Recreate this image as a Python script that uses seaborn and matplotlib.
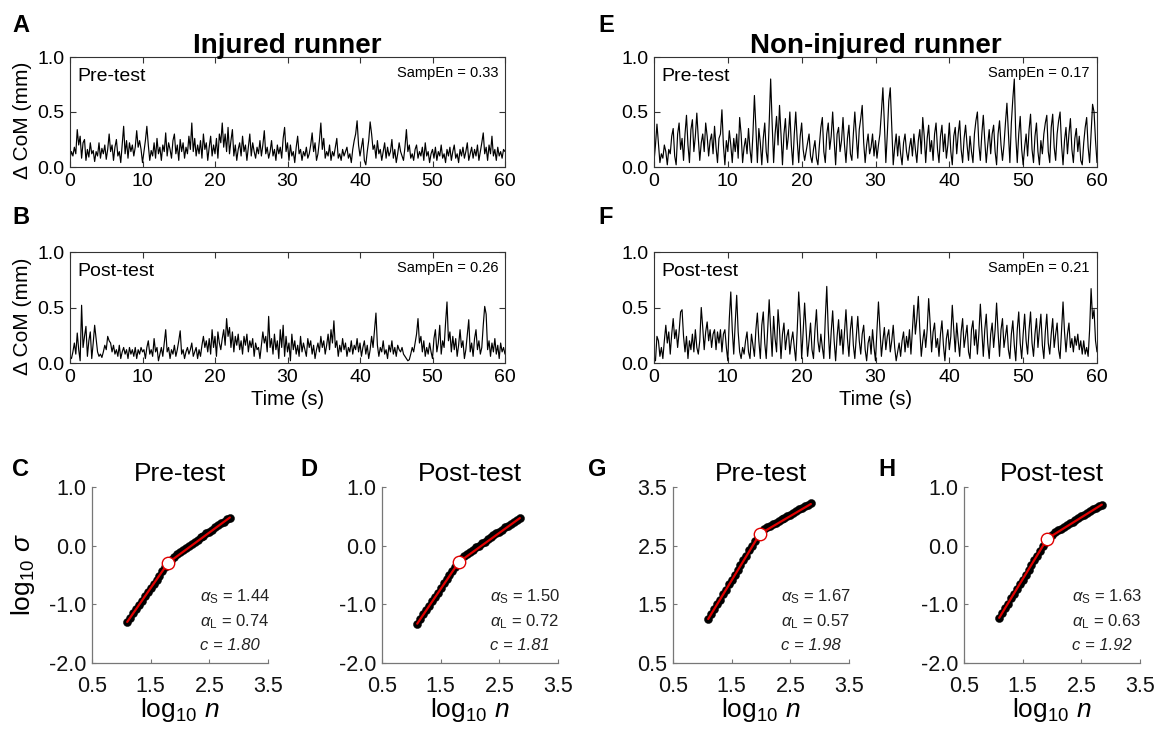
import numpy as np
import matplotlib
matplotlib.use("Agg")
import matplotlib.pyplot as plt
import seaborn as sns

# ---------------- data (CoM variation, units of 0.01 mm, sampled every 0.2 s) ----------------
injured_pre_cmm = [
    8,14,10,18,12,34,20,28,8,22, 25,6,16,9,22,12,15,5,14,10, 22,8,17,12,20,7,16,30,14,20,
    6,18,25,10,14,4,20,37,12,24, 8,22,14,20,10,18,33,18,24,16,
    4,14,24,37,20,6,15,10,22,8, 26,12,18,6,20,14,31,10,22,16, 8,24,30,12,20,6,25,14,22,8,
    18,12,28,16,40,14,26,10,20,12, 24,8,30,16,22,6,18,28,10,20,
    12,26,8,30,22,40,18,30,14,36, 12,24,34,10,20,6,16,22,10,28, 14,20,6,18,30,10,22,14,8,18,
    12,24,10,20,33,12,18,8,14,24, 10,16,6,20,12,18,8,26,36,14,
    22,6,20,10,14,4,18,28,12,16, 6,14,10,18,8,12,20,31,14,22, 6,12,24,40,16,26,8,14,10,20,
    6,14,10,18,26,8,12,6,16,10, 14,18,8,12,4,16,24,30,42,20,
    10,18,26,6,2,14,24,41,30,16, 20,8,24,12,16,6,14,22,8,18, 10,14,25,8,16,4,12,22,14,10,
    6,18,34,14,20,8,12,6,16,20, 8,14,10,18,6,22,10,14,4,12,
    16,8,18,6,14,10,20,8,12,4, 16,10,18,6,14,20,8,12,4,16, 10,18,8,14,22,6,12,18,8,16,
    10,20,6,14,22,31,12,18,6,20, 12,28,10,16,6,18,10,14,8,16, 14]

injured_post_cmm = [
    6,4,10,18,8,27,12,2,52,14, 24,33,6,20,28,4,18,34,22,10, 6,8,5,10,16,12,24,20,18,10,
    16,8,12,6,16,4,10,14,8,12, 4,14,8,12,6,14,4,12,8,14,
    10,12,4,14,20,8,12,6,22,10, 14,2,8,14,6,18,30,10,14,4, 12,8,16,6,12,20,29,8,12,4,
    10,14,8,12,18,6,10,14,4,12, 6,16,24,14,20,10,22,8,30,14,
    24,6,28,18,12,22,30,16,40,24, 32,14,28,10,24,16,26,12,20,8, 24,16,26,10,20,14,22,6,18,12,
    14,4,16,28,18,24,10,42,14,22, 8,26,12,20,4,30,14,34,6,24,
    10,18,2,26,12,20,8,16,6,24, 10,18,12,6,22,14,20,8,16,4, 12,18,10,24,14,20,8,16,26,12,
    30,18,38,14,20,6,16,10,22,12, 18,6,14,10,20,8,16,12,22,10,
    18,6,14,20,8,16,4,12,24,14, 30,45,16,6,14,10,20,8,12,4, 16,10,20,8,14,6,16,12,10,14,
    8,6,4,2,3,8,14,10,18,26, 40,18,24,10,20,6,14,8,18,10,
    4,22,30,10,18,34,8,20,14,36, 55,20,28,10,24,12,22,6,16,30, 14,20,4,12,26,39,10,18,6,22,
    30,12,20,8,14,34,51,44,12,20, 6,18,10,22,8,16,4,18,10,14, 8]

noninjured_pre_cmm = [
    5,20,39,22,4,12,8,20,14,2, 16,12,28,35,10,2,30,40,16,26, 6,30,47,20,4,34,43,14,28,49,
    26,6,22,30,14,40,28,10,24,30, 12,37,18,4,26,30,52,20,2,24,
    14,33,20,4,26,14,30,8,45,30, 4,18,26,12,35,16,4,30,65,36, 4,35,22,2,26,40,14,4,40,80,
    40,4,30,46,20,56,30,2,30,44, 16,28,50,20,2,30,50,24,4,28,
    40,16,6,14,22,30,10,4,16,24, 8,2,20,36,45,14,4,30,40,16, 28,50,24,2,30,36,14,24,45,20,
    4,26,38,12,6,30,50,28,8,34, 44,56,22,4,20,30,12,18,30,10,
    24,8,20,30,50,72,40,4,30,60, 72,36,2,18,30,10,28,12,2,22, 30,14,6,18,26,10,30,16,4,24,
    34,12,45,28,4,26,38,14,24,6, 30,40,16,4,28,38,14,30,8,20,
    40,14,2,28,36,12,30,42,16,4, 26,38,20,6,28,14,4,30,42,50, 20,6,30,47,24,4,20,34,12,30,
    38,14,2,30,42,20,6,20,40,58, 30,4,40,62,80,28,4,30,46,16,
    2,18,30,10,34,48,16,4,28,40, 14,2,24,12,30,40,47,14,4,36, 48,18,6,30,42,50,20,2,24,36,
    12,30,44,16,4,26,35,14,28,6, 2,22,36,45,18,4,30,57,50,24, 4]

noninjured_post_cmm = [
    4,2,24,20,6,14,4,20,34,18, 28,8,26,40,22,30,14,28,46,48, 24,10,24,4,20,12,26,10,30,14,
    8,20,50,32,12,28,37,20,30,14, 26,30,12,28,18,30,10,26,30,14,
    2,40,64,30,8,36,61,28,10,4, 14,8,20,28,10,4,26,16,6,30, 45,20,4,34,46,18,4,30,57,30,
    6,42,22,10,48,30,4,26,36,12, 24,30,8,20,28,14,2,30,64,40,
    4,28,54,30,6,20,36,12,4,30, 48,20,10,26,14,4,40,69,30,4, 28,47,20,2,24,39,16,30,8,28,
    48,22,6,30,42,16,4,24,42,20, 8,26,34,12,2,18,24,8,30,14,
    2,30,55,30,6,20,32,12,24,30, 10,20,34,14,2,10,18,6,20,28, 10,24,14,30,8,30,52,26,40,60,
    30,6,20,30,14,30,58,36,10,28, 36,14,22,6,26,38,16,2,22,30,
    12,24,52,30,10,36,20,6,28,40, 14,24,34,10,4,30,38,16,30,8, 26,53,30,6,30,44,18,4,26,36,
    14,30,54,28,6,30,40,14,24,34, 12,4,26,38,16,2,30,46,18,4,
    26,44,20,8,30,46,18,6,26,40, 14,30,44,16,4,28,44,18,8,26, 40,14,26,36,12,4,30,55,28,10,
    26,36,14,22,10,24,16,26,12,20, 8,20,8,14,6,30,67,40,48,20, 10]

sampen = {"A": "0.33", "B": "0.26", "E": "0.17", "F": "0.21"}

# ---------------- DFA data ----------------
log_n = [1.10,1.15,1.20,1.25,1.30,1.35,1.40,1.45,1.50,1.55,1.60,1.65,1.70,1.75,1.80,1.85,1.90,1.95,
         2.00,2.05,2.10,2.15,2.20,2.25,2.30,2.35,2.40,2.45,2.50,2.55,2.60,2.65,2.70,2.75,2.80,2.85]
logsig_C = [-1.30,-1.23,-1.15,-1.08,-1.01,-0.94,-0.86,-0.79,-0.72,-0.65,-0.58,-0.51,-0.44,-0.37,-0.30,-0.24,-0.19,-0.15,
            -0.11,-0.07,-0.04,0.00,0.03,0.07,0.10,0.14,0.17,0.21,0.24,0.27,0.31,0.35,0.38,0.41,0.45,0.48]
logsig_D = [-1.33,-1.25,-1.17,-1.10,-1.02,-0.95,-0.87,-0.80,-0.72,-0.64,-0.57,-0.50,-0.43,-0.36,-0.29,-0.23,-0.18,-0.14,
            -0.10,-0.07,-0.03,0.00,0.04,0.07,0.11,0.14,0.18,0.21,0.24,0.27,0.31,0.34,0.37,0.40,0.44,0.47]
logsig_G = [1.25,1.33,1.42,1.50,1.58,1.67,1.75,1.84,1.92,2.00,2.08,2.17,2.25,2.33,2.42,2.50,2.58,2.66,
            2.73,2.78,2.81,2.84,2.87,2.89,2.92,2.95,2.98,3.00,3.03,3.06,3.09,3.12,3.14,3.17,3.20,3.23]
logsig_H = [-1.23,-1.15,-1.07,-0.99,-0.90,-0.82,-0.74,-0.66,-0.58,-0.50,-0.42,-0.33,-0.25,-0.17,-0.09,-0.01,0.07,0.14,
            0.19,0.23,0.26,0.29,0.32,0.35,0.38,0.41,0.44,0.47,0.50,0.53,0.56,0.59,0.62,0.65,0.68,0.70]
# fitted segments: start, crossover, end (log10 n, log10 sigma)
fit_x_C, fit_y_C = [1.10, 1.80, 2.85], [-1.30, -0.29, 0.48]
fit_x_D, fit_y_D = [1.10, 1.81, 2.85], [-1.33, -0.28, 0.47]
fit_x_G, fit_y_G = [1.10, 1.98, 2.85], [1.25, 2.70, 3.21]
fit_x_H, fit_y_H = [1.10, 1.92, 2.85], [-1.23, 0.12, 0.70]
alpha_S = {"C": "1.44", "D": "1.50", "G": "1.67", "H": "1.63"}
alpha_L = {"C": "0.74", "D": "0.72", "G": "0.57", "H": "0.63"}
cross_c = {"C": "1.80", "D": "1.81", "G": "1.98", "H": "1.92"}

# ---------------- style ----------------
sns.set_theme(style="ticks")
plt.rcParams["font.family"] = ["Liberation Sans", "DejaVu Sans"]
plt.rcParams["mathtext.fontset"] = "custom"
plt.rcParams["mathtext.rm"] = "Liberation Sans"
plt.rcParams["mathtext.it"] = "Liberation Sans:italic"
plt.rcParams["mathtext.bf"] = "Liberation Sans:bold"
plt.rcParams["text.color"] = "black"
plt.rcParams["axes.labelcolor"] = "black"
plt.rcParams["axes.titlecolor"] = "black"

W, H = 1168, 729
fig = plt.figure(figsize=(W / 100, H / 100), dpi=100)
fig.patch.set_facecolor("white")


def add_ax(x0, y0, x1, y1):
    return fig.add_axes([x0 / W, 1 - y1 / H, (x1 - x0) / W, (y1 - y0) / H])


def ts_panel(ax, values, phase, key, ylabel, xlabel):
    v = np.array(values) / 100.0
    t = np.linspace(0, 60, len(v))
    sns.lineplot(x=t, y=v, ax=ax, color="black", linewidth=0.85, errorbar=None)
    ax.set_xlim(0, 60)
    ax.set_ylim(0, 1)
    ax.set_xticks(range(0, 61, 10))
    ax.set_yticks([0, 0.5, 1.0])
    ax.set_yticklabels(["0.0", "0.5", "1.0"])
    ax.tick_params(direction="in", top=True, right=True, length=4, width=0.8,
                   labelsize=14, color="#333333", labelcolor="black", pad=4)
    for s in ax.spines.values():
        s.set_visible(True)
        s.set_color("#333333")
        s.set_linewidth(0.8)
    ax.text(0.016, 0.82, phase, transform=ax.transAxes, fontsize=14, va="center", ha="left")
    ax.text(0.984, 0.855, "SampEn = " + sampen[key], transform=ax.transAxes,
            fontsize=10.5, va="center", ha="right")
    if ylabel:
        ax.set_ylabel("Δ CoM (mm)", fontsize=15)
        ax.yaxis.set_label_coords(-0.088, 0.42)
    else:
        ax.set_ylabel("")
    if xlabel:
        ax.set_xlabel("Time (s)", fontsize=14.5, labelpad=3)
    else:
        ax.set_xlabel("")


axA = add_ax(70, 57, 505, 167)
axB = add_ax(70, 252, 505, 363)
axE = add_ax(654, 57, 1097, 167)
axF = add_ax(654, 252, 1097, 363)
ts_panel(axA, injured_pre_cmm, "Pre-test", "A", True, False)
ts_panel(axB, injured_post_cmm, "Post-test", "B", True, True)
ts_panel(axE, noninjured_pre_cmm, "Pre-test", "E", False, False)
ts_panel(axF, noninjured_post_cmm, "Post-test", "F", False, True)

axA.set_title("Injured runner", fontsize=20, fontweight="bold", pad=3)
axE.set_title("Non-injured runner", fontsize=20, fontweight="bold", pad=3)


def dfa_panel(ax, ys, fx, fy, key, title, ylim, yticks, ylabel):
    sns.lineplot(x=fx, y=fy, ax=ax, color="#e00000", linewidth=1.6, sort=False,
                 errorbar=None, zorder=3)
    sns.scatterplot(x=log_n, y=ys, ax=ax, color="black", s=34, edgecolor="black",
                    linewidth=0.3, zorder=2)
    sns.scatterplot(x=[fx[1]], y=[fy[1]], ax=ax, color="white", edgecolor="#e00000",
                    s=80, linewidth=1.0, zorder=4)
    ax.set_xlim(0.5, 3.5)
    ax.set_ylim(*ylim)
    ax.set_xticks([0.5, 1.5, 2.5, 3.5])
    ax.set_xticklabels(["0.5", "1.5", "2.5", "3.5"])
    ax.set_yticks(yticks)
    ax.set_yticklabels(["%.1f" % y for y in yticks])
    ax.tick_params(direction="in", length=3, width=0.8, labelsize=15.5,
                   color="#777777", labelcolor="#111111", pad=4)
    ax.tick_params(axis="x", pad=9)
    ax.spines["top"].set_visible(False)
    ax.spines["right"].set_visible(False)
    for s in ("left", "bottom"):
        ax.spines[s].set_color("#777777")
        ax.spines[s].set_linewidth(0.9)
    ax.set_title(title, fontsize=19, pad=4)
    ax.set_xlabel("log$_{10}$ $n$", fontsize=19, labelpad=0)
    if ylabel:
        ax.set_ylabel("log$_{10}$ $\\sigma$", fontsize=19)
        ax.yaxis.set_label_coords(-0.31, 0.5)
    else:
        ax.set_ylabel("")
    col = "#222222"
    ax.text(0.614, 0.375, r"$\alpha_{\mathrm{S}}$ = " + alpha_S[key], transform=ax.transAxes,
            fontsize=12, va="center", color=col)
    ax.text(0.614, 0.233, r"$\alpha_{\mathrm{L}}$ = " + alpha_L[key], transform=ax.transAxes,
            fontsize=12, va="center", color=col)
    ax.text(0.614, 0.102, "c = " + cross_c[key], transform=ax.transAxes,
            fontsize=12, va="center", color=col, fontstyle="italic")


axC = add_ax(92, 487, 268, 663)
axD = add_ax(382, 487, 558, 663)
axG = add_ax(673, 487, 849, 663)
axH = add_ax(964, 487, 1140, 663)
yt1 = [-2.0, -1.0, 0.0, 1.0]
dfa_panel(axC, logsig_C, fit_x_C, fit_y_C, "C", "Pre-test", (-2, 1), yt1, True)
dfa_panel(axD, logsig_D, fit_x_D, fit_y_D, "D", "Post-test", (-2, 1), yt1, False)
dfa_panel(axG, logsig_G, fit_x_G, fit_y_G, "G", "Pre-test", (0.5, 3.5), [0.5, 1.5, 2.5, 3.5], False)
dfa_panel(axH, logsig_H, fit_x_H, fit_y_H, "H", "Post-test", (-2, 1), yt1, False)

# panel letters
for letter, (px, py) in {"A": (12, 25), "B": (12, 217), "E": (598, 25), "F": (598, 218),
                         "C": (12, 470), "D": (300, 470), "G": (588, 470), "H": (878, 470)}.items():
    fig.text(px / W, 1 - py / H, letter, fontsize=17, fontweight="bold", ha="left", va="center")

fig.savefig("out.png", dpi=100, facecolor="white")
